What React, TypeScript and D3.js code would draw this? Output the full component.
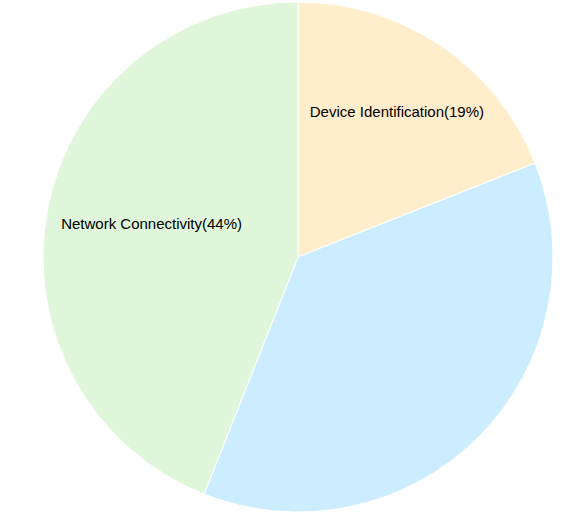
import { useEffect, useRef } from 'react'
import * as d3 from 'd3'

const categories = ['Device Identification', 'Other', 'Network Connectivity']
const values = [19, 37, 44]
const showLabel = [true, false, true]
const colors = ['#FFEDCC', '#CCEDFF', '#E0F6DA']

export default function App() {
  const svgRef = useRef<SVGSVGElement>(null)

  useEffect(() => {
    const svgEl = svgRef.current
    if (!svgEl) return
    const cx = 298
    const cy = 257
    const R = 255

    d3.select(svgEl).selectAll('*').remove()
    const svg = d3.select(svgEl).append('g').attr('transform', `translate(${cx},${cy})`)

    const data = categories.map((c, i) => ({ name: c, value: values[i], color: colors[i], label: showLabel[i] }))
    const total = d3.sum(values)

    const pie = d3.pie<typeof data[0]>().value(d => d.value).sort(null)
    const arcs = pie(data)
    const arc = d3.arc<d3.PieArcDatum<typeof data[0]>>().innerRadius(0).outerRadius(R)

    svg.selectAll('path')
      .data(arcs)
      .enter()
      .append('path')
      .attr('d', arc)
      .attr('fill', d => d.data.color)
      .attr('stroke', '#fff')
      .attr('stroke-width', 1)

    const labelR = R * 0.69
    const pad = 16
    arcs.filter(a => a.data.label).forEach(a => {
      const mid = (a.startAngle + a.endAngle) / 2
      let x = labelR * Math.sin(mid)
      const y = -labelR * Math.cos(mid)
      const text = svg.append('text')
        .attr('font-family', 'Liberation Sans, Arial, sans-serif')
        .attr('font-size', 15)
        .attr('fill', '#000')
        .attr('text-anchor', 'middle')
        .attr('dy', '0.35em')
        .text(`${a.data.name}(${Math.round(a.data.value / total * 100)}%)`)
      const w = (text.node() as SVGTextElement).getComputedTextLength()
      const edge = Math.sqrt(Math.max(0, R * R - y * y)) - pad
      if (x - w / 2 < -edge) x = -edge + w / 2
      if (x + w / 2 > edge) x = edge - w / 2
      text.attr('x', x).attr('y', y)
    })
  }, [])

  return (
    <svg ref={svgRef} width={588} height={519}
      style={{ position: 'absolute', left: 0, top: 0, background: '#fff' }} />
  )
}
